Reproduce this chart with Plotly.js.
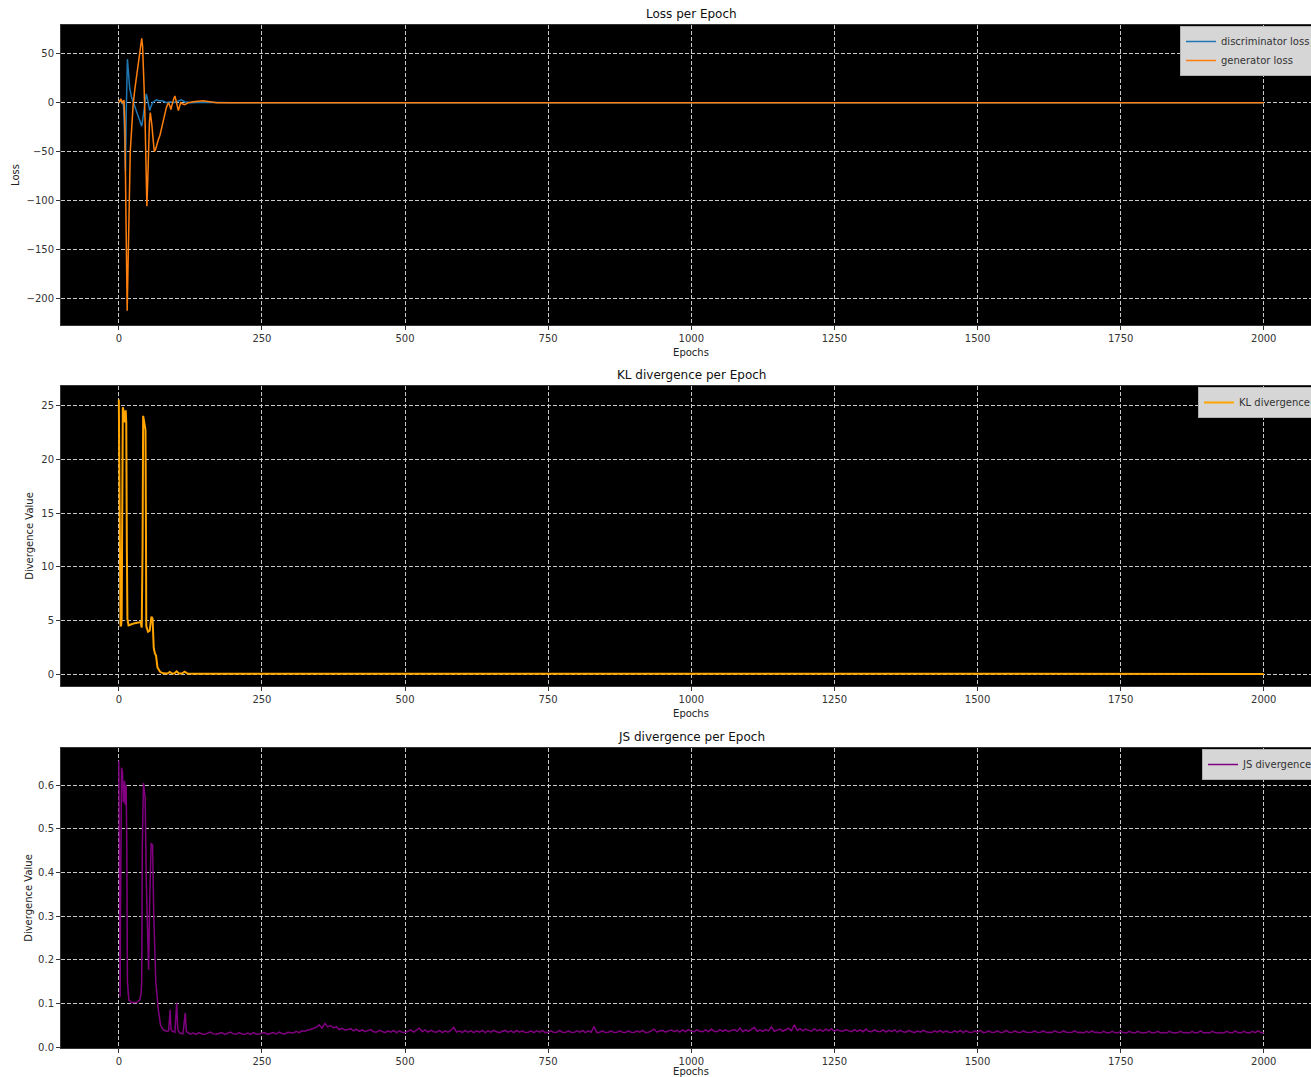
<!DOCTYPE html>
<html><head><meta charset="utf-8">
<script src="https://cdn.plot.ly/plotly-3.0.1.min.js"></script>
<style>html,body{margin:0;padding:0;overflow:hidden;background:#fff}</style>
</head><body><div id="chart" style="width:1340px;height:1077px"></div>
<script>
// ---------- data ----------
const discEpochs = [0,3,6,8,10,11.6,13,15,17,19,22,25,30,34,37,40,42,45,48,50,52,54,56,59,63,66,70,75,80,83,90,95,101,105,109,115,125,150,200,500,1000,1500,2000];
const discLoss   = [0,2,-1,0,-30,-70,-10,44.6,30,15,6,1,-8,-16,-21,-24,-16,-3,9,4,-2,-8,-4,0,2,3,2,2,1,0,1,0,1,2,3,1,0,0.5,0,0,0,0,0];

const genEpochs = [0,2,3.5,5,6,8,9,10.5,11.6,13,14.6,16,17.5,19,20,22,25,28,31,34,36.7,39,40,41.5,43,44.5,46,47.5,49,50.5,52,53.5,55,56.5,57.6,60,62,64,66,69,72,75,77,80,83,85,87,89,91,93,94,96,98,99.5,101,103,104,106,108,111,115,121,130,147,160,171,200,500,1000,1500,2000];
const genLoss   = [0,3,4,1,0,2,2,-20,-56,-140,-213,-180,-124,-80,-50,-25,-2,14,28,42,52,62,66,58,39,10,-22,-70,-106,-80,-43,-20,-10,-15,-22,-38,-50,-48,-43,-38,-33,-25,-19,-12,-5,-2,0,-3,-7,-2,1,4,7,3,-2,-6,-8,-4,0,-1,-2,0,1,2,1,0,0,0,0,0,0];

const klEpochs = [0,1,1.7,3,4,5,6,7,8.7,10.5,12,13,14,15,17,22,28,34,38,40,41.5,42.5,45,46.6,47.5,48,51,54,56,57,59,60,61,63,65,67.5,70,72,77,85,89,93,97,101,105,110,115,120,130,150,200,300,400,500,600,700,800,900,1000,1100,1200,1300,1400,1500,1600,1700,1800,1900,2000];
const klValue  = [25.5,15,5.2,4.5,4.6,5.2,15,24.8,24.3,23.4,24.5,23.4,12,5.2,4.6,4.7,4.8,4.85,4.9,4.4,12,24,23,22.7,12,4.5,4.0,4.1,5,5.4,5.2,4,2.5,2.0,1.8,0.7,0.45,0.3,0.15,0.14,0.28,0.14,0.13,0.34,0.14,0.13,0.3,0.13,0.12,0.12,0.11,0.11,0.12,0.1,0.11,0.1,0.11,0.1,0.11,0.12,0.11,0.1,0.11,0.1,0.1,0.11,0.1,0.1,0.1];

const jsEarlyEpochs = [0,1,2.3,3,4.7,6.4,8,10,11,12.8,14,15,17.5,22,31,36.7,39,40,41,43,45,46,48,50.7,52,54,56.5,59,61,64.6,68.7,72.8,77,83,87,89.7,91,94,98,101,103,106.5,112,116,118,124];
const jsEarlyValue  = [0.656,0.12,0.115,0.3,0.64,0.63,0.56,0.61,0.555,0.6,0.456,0.15,0.108,0.102,0.102,0.108,0.125,0.15,0.456,0.605,0.585,0.57,0.38,0.21,0.177,0.34,0.467,0.463,0.303,0.15,0.089,0.051,0.04,0.036,0.037,0.085,0.04,0.036,0.034,0.1,0.04,0.032,0.03,0.078,0.036,0.03];
// from epoch 125 to 2000, one reading every 5 epochs
const jsTailStart = 125, jsTailStep = 5;
const jsTailValue = [
0.030,0.032,0.029,0.033,0.030,0.029,0.032,0.034,0.030,0.029,
0.031,0.033,0.029,0.032,0.034,0.030,0.029,0.033,0.030,0.029,
0.032,0.029,0.033,0.030,0.029,0.032,0.033,0.029,0.031,0.033,
0.030,0.034,0.031,0.030,0.034,0.033,0.032,0.036,0.033,0.037,
0.036,0.039,0.040,0.043,0.045,0.051,0.043,0.054,0.046,0.049,
0.044,0.046,0.040,0.043,0.039,0.040,0.042,0.037,0.041,0.036,
0.039,0.035,0.038,0.040,0.035,0.034,0.038,0.035,0.033,0.037,
0.034,0.038,0.033,0.037,0.034,0.033,0.037,0.039,0.034,0.038,
0.043,0.035,0.039,0.034,0.038,0.035,0.034,0.038,0.033,0.037,
0.034,0.038,0.045,0.034,0.037,0.033,0.038,0.034,0.037,0.033,
0.037,0.034,0.038,0.033,0.037,0.034,0.038,0.035,0.033,0.036,
0.038,0.034,0.037,0.033,0.038,0.034,0.037,0.033,0.034,0.037,
0.033,0.037,0.034,0.038,0.033,0.034,0.037,0.033,0.034,0.038,
0.034,0.033,0.037,0.034,0.033,0.037,0.034,0.038,0.033,0.037,
0.034,0.047,0.033,0.034,0.037,0.033,0.034,0.037,0.033,0.034,
0.037,0.034,0.033,0.037,0.034,0.033,0.037,0.034,0.038,0.033,
0.034,0.037,0.041,0.034,0.037,0.038,0.034,0.037,0.039,0.035,
0.038,0.034,0.039,0.035,0.040,0.036,0.035,0.039,0.036,0.035,
0.039,0.035,0.041,0.036,0.035,0.040,0.036,0.039,0.035,0.038,
0.040,0.036,0.043,0.035,0.039,0.036,0.040,0.045,0.036,0.039,
0.036,0.040,0.037,0.046,0.036,0.039,0.041,0.036,0.040,0.043,
0.037,0.051,0.038,0.042,0.037,0.041,0.038,0.036,0.042,0.037,
0.040,0.036,0.041,0.037,0.042,0.036,0.040,0.037,0.036,0.040,
0.037,0.035,0.040,0.036,0.039,0.035,0.041,0.036,0.035,0.039,
0.036,0.035,0.039,0.034,0.038,0.035,0.039,0.034,0.038,0.035,
0.034,0.038,0.035,0.033,0.037,0.034,0.038,0.035,0.034,0.033,
0.037,0.034,0.038,0.033,0.037,0.034,0.033,0.037,0.034,0.038,
0.033,0.037,0.034,0.033,0.037,0.034,0.038,0.033,0.034,0.037,
0.033,0.034,0.037,0.033,0.034,0.038,0.034,0.033,0.037,0.034,
0.033,0.037,0.034,0.033,0.034,0.037,0.033,0.034,0.037,0.033,
0.034,0.033,0.037,0.034,0.033,0.037,0.034,0.033,0.034,0.037,
0.033,0.034,0.032,0.036,0.033,0.037,0.033,0.034,0.032,0.036,
0.033,0.032,0.036,0.033,0.032,0.036,0.033,0.032,0.036,0.033,
0.032,0.036,0.033,0.032,0.033,0.036,0.032,0.033,0.036,0.032,
0.033,0.032,0.036,0.033,0.032,0.033,0.036,0.032,0.033,0.032,
0.036,0.032,0.033,0.037,0.032,0.033,0.032,0.036,0.033,0.032,
0.033,0.032,0.036,0.033,0.032,0.037,0.033,0.032,0.036,0.033,
0.032,0.036,0.033,0.037,0.033,0.032];

const xTicks = [0,250,500,750,1000,1250,1500,1750,2000];
const lossTicks = [-200,-150,-100,-50,0,50];
const klTicks = [0,5,10,15,20,25];
const jsTicks = [0,0.1,0.2,0.3,0.4,0.5,0.6];
const titles = ['Loss per Epoch','KL divergence per Epoch','JS divergence per Epoch'];

// ---------- build ----------
const jsEpochs = jsEarlyEpochs.slice();
const jsValue = jsEarlyValue.slice();
jsTailValue.forEach((v,i)=>{ jsEpochs.push(jsTailStart + i*jsTailStep); jsValue.push(v); });

const FONT = 'DejaVu Sans, Liberation Sans, sans-serif';
const traces = [
  {x:discEpochs, y:discLoss, type:'scatter', mode:'lines', name:'discriminator loss',
   line:{color:'#1f77b4', width:1.5}, xaxis:'x', yaxis:'y', legend:'legend'},
  {x:genEpochs, y:genLoss, type:'scatter', mode:'lines', name:'generator loss',
   line:{color:'#ff7f0e', width:1.5}, xaxis:'x', yaxis:'y', legend:'legend'},
  {x:klEpochs, y:klValue, type:'scatter', mode:'lines', name:'KL divergence',
   line:{color:'#ffa500', width:2}, xaxis:'x2', yaxis:'y2', legend:'legend2'},
  {x:jsEpochs, y:jsValue, type:'scatter', mode:'lines', name:'JS divergence',
   line:{color:'#800080', width:1.5}, xaxis:'x3', yaxis:'y3', legend:'legend3'}
];

const H = 1077, T = 25, B = 29, PH = H - T - B;
const py = px => (H - B - px) / PH;     // pixel row -> paper y
const doms = [[py(325), py(25)], [py(686), py(386)], [py(1048), py(748)]];

function xa(anchor){
  return {domain:[0,1], anchor:anchor, range:[-101,2100], tickvals:xTicks, ticks:'outside', ticklen:4,
    tickcolor:'#333', tickfont:{size:10, color:'#333', family:FONT}, showgrid:true, gridcolor:'#c8c8c8',
    griddash:'4px,2px', gridwidth:1, zeroline:false, showline:true, linecolor:'#333', mirror:true,
    title:{text:'Epochs', font:{size:10, color:'#222', family:FONT}, standoff:5}};
}
function ya(anchor, dom, range, ticks, fmt, title, standoff){
  return {domain:dom, anchor:anchor, range:range, tickvals:ticks, tickformat:fmt, ticks:'outside', ticklen:4,
    tickcolor:'#333', tickfont:{size:10, color:'#333', family:FONT}, showgrid:true, gridcolor:'#c8c8c8',
    griddash:'4px,2px', gridwidth:1, zeroline:false, showline:true, linecolor:'#333', mirror:true,
    title:{text:title, font:{size:10, color:'#222', family:FONT}, standoff:standoff}};
}
const legBase = {bgcolor:'#d6d6d6', bordercolor:'#b0b0b0', borderwidth:1, font:{size:10, color:'#333', family:FONT},
  xanchor:'left', yanchor:'top', tracegroupgap:0, itemwidth:30};
const pxX = px => (px - 61) / 1260;

const layout = {
  width:1340, height:H, margin:{l:61, r:19, t:T, b:B},
  paper_bgcolor:'#ffffff', plot_bgcolor:'#000000', font:{family:FONT},
  xaxis:xa('y'), xaxis2:xa('y2'), xaxis3:xa('y3'),
  yaxis:ya('x', doms[0], [-227.6,79.6], lossTicks, '', 'Loss', 5),
  yaxis2:ya('x2', doms[1], [-1.02,26.76], klTicks, '', 'Divergence Value', 5),
  yaxis3:ya('x3', doms[2], [-0.0023,0.685], jsTicks, '.1f', 'Divergence Value', 3),
  legend:Object.assign({}, legBase, {x:pxX(1180), y:py(26)}),
  legend2:Object.assign({}, legBase, {x:pxX(1198), y:py(387)}),
  legend3:Object.assign({}, legBase, {x:pxX(1202), y:py(749)}),
  showlegend:true,
  annotations: titles.map((t,i)=>({text:t, xref:'paper', yref:'paper', x:0.5, y:doms[i][1] + 11/PH,
    xanchor:'center', yanchor:'middle', showarrow:false, font:{size:12, color:'#111', family:FONT}}))
};

Plotly.newPlot('chart', traces, layout, {displayModeBar:false, staticPlot:true});
</script></body></html>
